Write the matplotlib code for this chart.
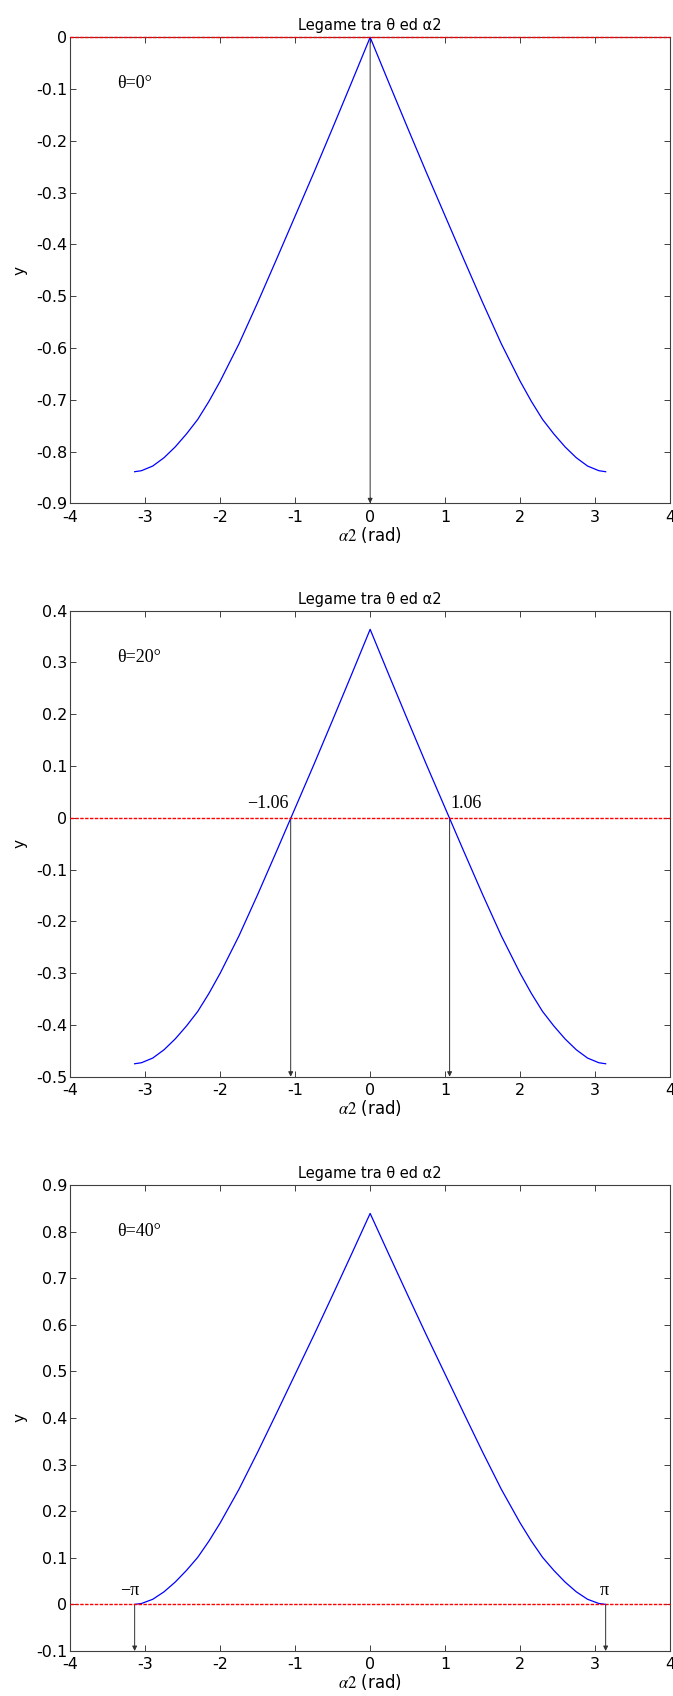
import matplotlib
matplotlib.use('Agg')
import matplotlib.pyplot as plt
from matplotlib.ticker import FuncFormatter, MultipleLocator

plt.rcParams['font.family'] = ['DejaVu Sans']
plt.rcParams['mathtext.fontset'] = 'stix'
plt.rcParams['axes.unicode_minus'] = False

# ---- data ----
alpha2 = [-3.1416, -3.05, -2.9, -2.75, -2.6, -2.45, -2.3, -2.15, -2.0, -1.75, -1.5, -1.25, -1.0,
          -0.75, -0.5, -0.25, 0.0, 0.25, 0.5, 0.75, 1.0, 1.25, 1.5, 1.75, 2.0, 2.15, 2.3,
          2.45, 2.6, 2.75, 2.9, 3.05, 3.1416]
y_theta0 = [-0.839, -0.837, -0.828, -0.812, -0.791, -0.766, -0.738, -0.703, -0.664, -0.592, -0.512,
            -0.429, -0.345, -0.261, -0.175, -0.088, 0.000, -0.088, -0.175, -0.261, -0.345, -0.429,
            -0.512, -0.592, -0.664, -0.703, -0.738, -0.766, -0.791, -0.812, -0.828, -0.837, -0.839]
y_theta20 = [-0.475, -0.473, -0.464, -0.448, -0.427, -0.402, -0.374, -0.339, -0.300, -0.228, -0.148,
             -0.065, 0.019, 0.103, 0.189, 0.276, 0.364, 0.276, 0.189, 0.103, 0.019, -0.065, -0.148,
             -0.228, -0.300, -0.339, -0.374, -0.402, -0.427, -0.448, -0.464, -0.473, -0.475]
y_theta40 = [0.000, 0.002, 0.011, 0.027, 0.048, 0.073, 0.101, 0.136, 0.175, 0.247, 0.327, 0.410,
             0.494, 0.578, 0.664, 0.751, 0.839, 0.751, 0.664, 0.578, 0.494, 0.410, 0.327, 0.247,
             0.175, 0.136, 0.101, 0.073, 0.048, 0.027, 0.011, 0.002, 0.000]

series = [y_theta0, y_theta20, y_theta40]
theta_labels = ['θ=0°', 'θ=20°', 'θ=40°']
y_limits = [(-0.9, 0.0), (-0.5, 0.4), (-0.1, 0.9)]
x_limits = (-4, 4)
roots = [[0.0], [-1.06, 1.06], [-3.1416, 3.1416]]
root_labels = [[], ['\u22121.06', '1.06'], ['\u2212\u03c0', '\u03c0']]
title_text = 'Legame tra θ ed α2'
xlabel_text = r'$\alpha2$ (rad)'
ylabel_text = 'y'

SERIF = ['Liberation Serif', 'DejaVu Serif']

W, H = 673, 1696
fig = plt.figure(figsize=(W / 100, H / 100), dpi=100)

left = 70.3 / W
width = 599.7 / W
height = 466 / H
bottoms_px = [503.3, 1076.7, 1651.0]

fmt = FuncFormatter(lambda v, p: ('%g' % round(v, 2)) if abs(v) > 1e-9 else '0')

for i in range(3):
    ax = fig.add_axes([left, 1 - bottoms_px[i] / H, width, height])
    ax.set_xlim(*x_limits)
    ax.set_ylim(*y_limits[i])
    ax.xaxis.set_major_locator(MultipleLocator(1))
    ax.yaxis.set_major_locator(MultipleLocator(0.1))
    ax.xaxis.set_major_formatter(fmt)
    ax.yaxis.set_major_formatter(fmt)
    ax.tick_params(direction='in', top=True, right=True, length=4, width=0.7,
                   labelsize=11.5, color='#404040')
    ax.tick_params(axis='x', pad=4.5)
    ax.tick_params(axis='y', pad=2)
    for s in ax.spines.values():
        s.set_linewidth(0.8)
        s.set_color('#404040')

    # red dashed zero line
    ax.axhline(0, color='red', lw=1.0, ls=(0, (2.5, 1.0)), zorder=5, clip_on=False)
    # curve
    ax.plot(alpha2, series[i], color='blue', lw=0.9, zorder=3)
    # arrows from roots down to the axis
    for r in roots[i]:
        ax.annotate('', xy=(r, y_limits[i][0]), xytext=(r, 0.0),
                    arrowprops=dict(arrowstyle='-|>', color='#303030', lw=0.7,
                                    mutation_scale=7, shrinkA=0, shrinkB=0),
                    zorder=2)

    ax.text(0.0775, 0.9, theta_labels[i], transform=ax.transAxes, ha='left', va='center',
            family=SERIF, fontsize=13)

    ax.set_title(title_text, fontsize=10.5, pad=5)
    ax.set_xlabel(xlabel_text, fontsize=12, labelpad=0)
    ax.set_ylabel(ylabel_text, fontsize=11, labelpad=6)

    if i == 1:
        ax.text(-1.09, 0.012, root_labels[i][0], ha='right', va='bottom',
                family=SERIF, fontsize=13)
        ax.text(1.07, 0.012, root_labels[i][1], ha='left', va='bottom',
                family=SERIF, fontsize=13)
    if i == 2:
        ax.text(-3.21, 0.012, root_labels[i][0], ha='center', va='bottom',
                family=SERIF, fontsize=13)
        ax.text(3.12, 0.012, root_labels[i][1], ha='center', va='bottom',
                family=SERIF, fontsize=13)

fig.savefig('out.png', dpi=100)
